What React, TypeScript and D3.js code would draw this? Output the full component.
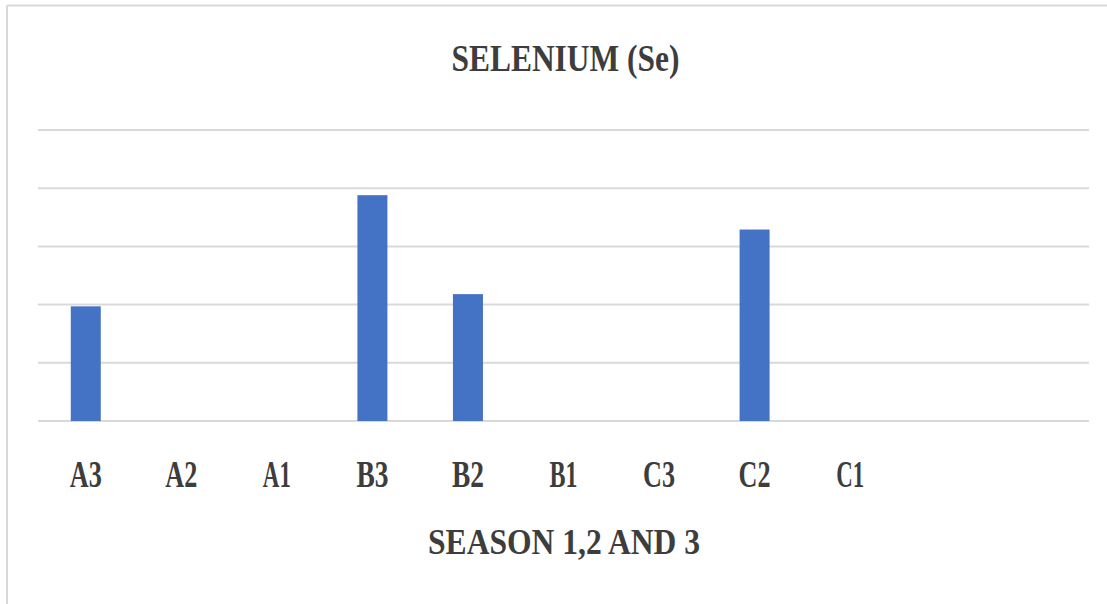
import React from "react";
import * as d3 from "d3";

const title = "SELENIUM (Se)";
const xTitle = "SEASON 1,2 AND 3";
const categories = ["A3", "A2", "A1", "B3", "B2", "B1", "C3", "C2", "C1"];
const values = [1.97, 0, 0, 3.88, 2.18, 0, 0, 3.29, 0];
const slotCount = 11; // the axis leaves room for two empty slots after C1
const yTicks = [0, 1, 2, 3, 4, 5];

const W = 1107;
const H = 604;
const M = { left: 38, right: 1089, top: 130, bottom: 421 };

export default function App() {
  const x = d3
    .scaleBand<number>()
    .domain(d3.range(slotCount))
    .range([M.left, M.right])
    .paddingInner(0.686)
    .paddingOuter(0.343);
  const y = d3.scaleLinear().domain([0, 5]).range([M.bottom, M.top]);
  const textColor = "#3d3d3d";
  const font = "'Liberation Serif', 'Times New Roman', serif";

  return (
    <div style={{ position: "absolute", left: 0, top: 0 }}>
      <svg width={W} height={H} style={{ display: "block", background: "#fff" }}>
        {/* chart border (top and left visible) */}
        <line x1={7} x2={W} y1={5.5} y2={5.5} stroke="#d9d9d9" strokeWidth={2} />
        <line x1={7} x2={7} y1={5.5} y2={H} stroke="#d9d9d9" strokeWidth={2} />

        <text
          x={565.5}
          y={70.5}
          textAnchor="middle"
          fontFamily={font}
          fontWeight="bold"
          fontSize={37}
          fill={textColor}
          textLength={228}
          lengthAdjust="spacingAndGlyphs"
        >
          {title}
        </text>

        {yTicks.map((t) => (
          <line
            key={t}
            x1={M.left}
            x2={M.right}
            y1={y(t)}
            y2={y(t)}
            stroke="#d9d9d9"
            strokeWidth={2}
          />
        ))}

        {values.map((v, i) => (
          <rect
            key={categories[i]}
            x={x(i)!}
            y={y(v)}
            width={x.bandwidth()}
            height={y(0) - y(v)}
            fill="#4472C4"
          />
        ))}

        {categories.map((c, i) => (
          <text
            key={c}
            x={x(i)! + x.bandwidth() / 2}
            y={486.5}
            textAnchor="middle"
            fontFamily={font}
            fontWeight="bold"
            fontSize={38}
            fill={textColor}
            textLength={c.includes("1") ? 28 : 32}
            lengthAdjust="spacingAndGlyphs"
          >
            {c}
          </text>
        ))}

        <text
          x={564}
          y={553.5}
          textAnchor="middle"
          fontFamily={font}
          fontWeight="bold"
          fontSize={35}
          fill={textColor}
          textLength={272}
          lengthAdjust="spacingAndGlyphs"
        >
          {xTitle}
        </text>
      </svg>
    </div>
  );
}
